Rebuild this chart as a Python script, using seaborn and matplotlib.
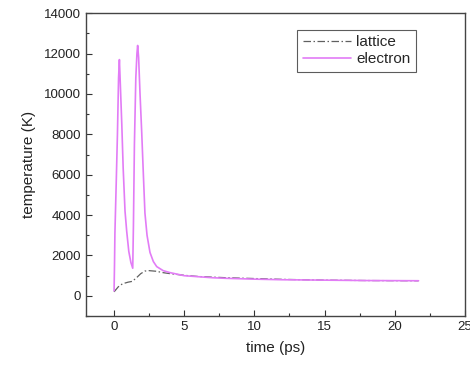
import numpy as np
import pandas as pd
import matplotlib
matplotlib.use("Agg")
import matplotlib.pyplot as plt
from matplotlib.ticker import MultipleLocator
import seaborn as sns

# --- data ---
lattice_t = [0.0, 0.3, 0.6, 1.0, 1.3, 1.6, 1.9, 2.2, 2.5, 3.0, 3.5, 4.0, 5.0, 6.0, 8.0, 10.0, 12.0, 15.0, 18.0, 21.7]
lattice_T = [200, 450, 600, 680, 720, 900, 1100, 1230, 1250, 1220, 1150, 1100, 1020, 960, 900, 860, 820, 780, 760, 750]

electron_t = [0.0, 0.03, 0.06, 0.15, 0.24, 0.32, 0.38, 0.45, 0.55, 0.65, 0.78, 0.9, 1.05, 1.2, 1.33,
              1.38, 1.45, 1.55, 1.63, 1.68, 1.75, 1.85, 1.97, 2.1, 2.2, 2.35, 2.56, 2.8, 3.04,
              3.5, 4.0, 5.0, 6.0, 7.0, 8.0, 10.0, 12.0, 15.0, 18.0, 21.7]
electron_T = [250, 1500, 3100, 5500, 8000, 10800, 11700, 10400, 8500, 6300, 4200, 3200, 2200, 1650, 1370,
              3500, 7500, 10800, 12000, 12400, 11800, 10000, 8100, 5800, 4100, 3000, 2150, 1700, 1450,
              1250, 1150, 1000, 950, 900, 870, 830, 800, 780, 760, 750]

series_names = ["lattice", "electron"]
x_ticks = [0, 5, 10, 15, 20, 25]
y_ticks = [0, 2000, 4000, 6000, 8000, 10000, 12000, 14000]

sns.set_theme(style="white")
plt.rcParams["font.family"] = ["Liberation Sans", "DejaVu Sans"]

fig = plt.figure(figsize=(4.7, 3.65), dpi=100)
ax = fig.add_axes([0.183, 0.134, 0.806, 0.830])

df_l = pd.DataFrame({"t": lattice_t, "T": lattice_T})
df_e = pd.DataFrame({"t": electron_t, "T": electron_T})

sns.lineplot(data=df_l, x="t", y="T", ax=ax, sort=False, color="#606060", lw=0.9,
             label=series_names[0], dashes=False)
ax.lines[-1].set_dashes((6, 2, 1.2, 2))
sns.lineplot(data=df_e, x="t", y="T", ax=ax, sort=False, color="#E27CF6", lw=1.2,
             label=series_names[1])

ax.set_xlim(-2, 25)
ax.set_ylim(-1000, 14000)
ax.set_xticks(x_ticks)
ax.set_yticks(y_ticks)
ax.xaxis.set_minor_locator(MultipleLocator(2.5))
ax.yaxis.set_minor_locator(MultipleLocator(1000))
ax.tick_params(axis="both", which="both", direction="in", bottom=True, left=True,
               top=False, right=False, colors="#333333", labelcolor="#222222")
ax.tick_params(axis="both", which="major", length=4, width=0.8, labelsize=9.5)
ax.tick_params(axis="both", which="minor", length=2.5, width=0.8)
for s in ax.spines.values():
    s.set_color("#444444")
    s.set_linewidth(1.0)

ax.set_xlabel("time (ps)", fontsize=11, color="#222222", labelpad=6)
ax.set_ylabel("temperature (K)", fontsize=11, color="#222222", labelpad=6)

leg = ax.legend(loc="upper right", bbox_to_anchor=(0.87, 0.945), frameon=True, fancybox=False,
                fontsize=11, handlelength=3.2, borderpad=0.35, labelspacing=0.2,
                handletextpad=0.3, borderaxespad=0)
leg.get_frame().set_edgecolor("#333333")
leg.get_frame().set_linewidth(0.8)

fig.savefig("out.png", dpi=100)
